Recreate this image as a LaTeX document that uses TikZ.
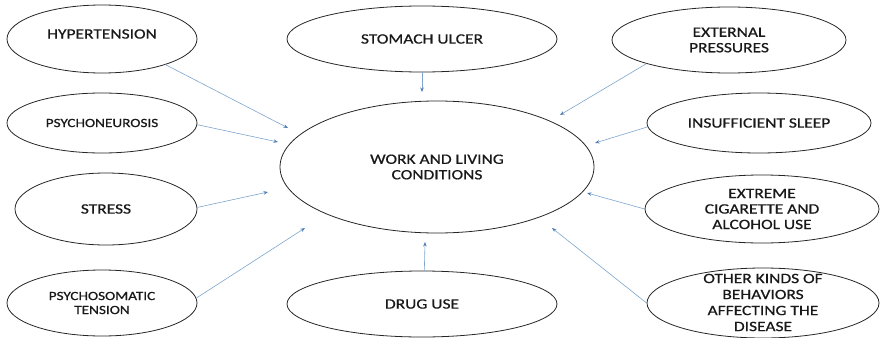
\documentclass[tikz,border=0pt]{standalone}
\usepackage{fontspec}
\newfontfamily\lblfont[FakeStretch=1.22,FakeBold=0.7]{Carlito}
\usetikzlibrary{shapes.geometric,arrows.meta}
\definecolor{arrowblue}{RGB}{125,165,205}
\definecolor{tipblue}{RGB}{80,125,180}
\definecolor{txt}{RGB}{25,25,25}
\begin{document}
\begin{tikzpicture}[x=1pt,y=-1pt,
  bubble/.style={ellipse,draw=black!85,line width=0.8pt,inner sep=0pt},
  lbl/.style={align=center,text=txt,font=\lblfont\fontsize{14.3}{15.5}\selectfont,inner sep=0pt},
  slbl/.style={align=center,text=txt,font=\lblfont\fontsize{12.5}{14}\selectfont,inner sep=0pt},
  link/.style={draw=arrowblue,line width=0.6pt,-{Stealth[length=4.5pt,width=3.5pt,color=tipblue]}}]
\useasboundingbox (0,0) rectangle (885,337);
% ellipses
\node[bubble,minimum width=190,minimum height=68] (hyp) at (102,39) {};
\node[bubble,minimum width=190,minimum height=60] (psn) at (102,123) {};
\node[bubble,minimum width=182,minimum height=72] (str) at (106,209) {};
\node[bubble,minimum width=190,minimum height=66] (pst) at (102,303) {};
\node[bubble,minimum width=270,minimum height=66] (sto) at (422,39) {};
\node[bubble,minimum width=314,minimum height=132] (work) at (437,167) {};
\node[bubble,minimum width=270,minimum height=66] (drug) at (422,304) {};
\node[bubble,minimum width=234,minimum height=66] (ext) at (729,40) {};
\node[bubble,minimum width=224,minimum height=60] (ins) at (759,123) {};
\node[bubble,minimum width=234,minimum height=68] (cig) at (762,209) {};
\node[bubble,minimum width=232,minimum height=70] (oth) at (763,303) {};
% texts
\node[lbl] (thyp) at ([yshift=5]hyp.center) {HYPERTENSION};
\node[slbl] (tpsn) at (psn.center) {PSYCHONEUROSIS};
\node[lbl] (tstr) at (str.center) {STRESS};
\node[slbl] (tpst) at (pst.center) {PSYCHOSOMATIC\\TENSION};
\node[lbl] (tsto) at (sto.center) {STOMACH ULCER};
\node[lbl] (twork) at (work.center) {WORK AND LIVING\\CONDITIONS};
\node[lbl] (tdrug) at (drug.center) {DRUG USE};
\node[lbl] (text) at (ext.center) {EXTERNAL\\PRESSURES};
\node[lbl] (tins) at (ins.center) {INSUFFICIENT SLEEP};
\node[lbl] (tcig) at (cig.center) {EXTREME\\CIGARETTE AND\\ALCOHOL USE};
\node[lbl,font=\lblfont\fontsize{14.3}{16}\selectfont] (toth) at ([yshift=0.5]oth.center) {OTHER KINDS OF\\BEHAVIORS\\AFFECTING THE\\DISEASE};
% arrow end points
\coordinate (ehyp) at (288,128);
\coordinate (epsn) at (278,142);
\coordinate (estr) at (268,192);
\coordinate (epst) at (305,228);
\coordinate (esto) at (422,92);
\coordinate (edrug) at (425,242);
\coordinate (eext) at (560,115);
\coordinate (eins) at (595,143);
\coordinate (ecig) at (587,193);
\coordinate (eoth) at (552,228);
% connectors
\draw[link] (hyp.-22) -- (ehyp);
\draw[link] (psn.-1) -- (epsn);
\draw[link] (str.1) -- (estr);
\draw[link] (pst.3) -- (epst);
\draw[link] (sto.-90) -- (esto);
\draw[link] (drug.86) -- (edrug);
\draw[link] (ext.-164) -- (eext);
\draw[link] (ins.182) -- (eins);
\draw[link] (cig.180) -- (ecig);
\draw[link] (oth.180) -- (eoth);
\end{tikzpicture}
\end{document}
